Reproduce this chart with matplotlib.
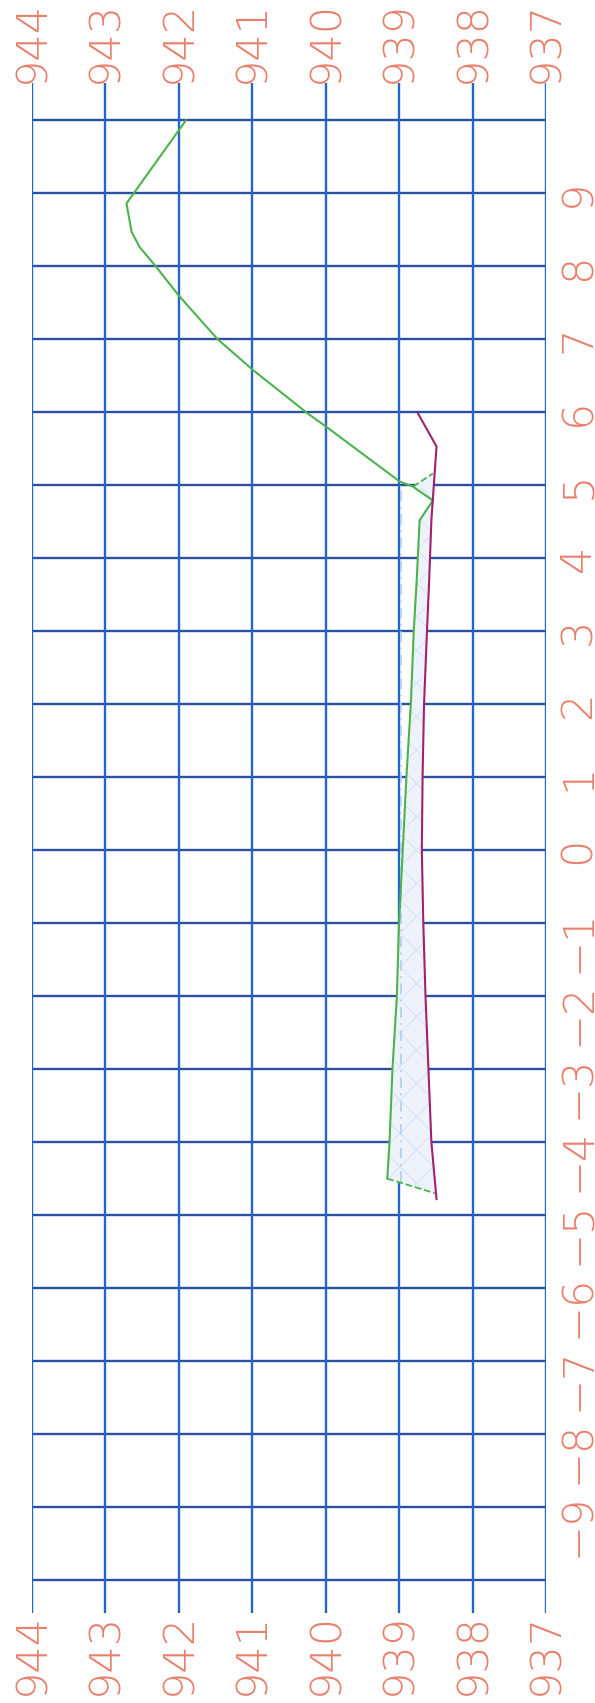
import numpy as np
import matplotlib
matplotlib.use("Agg")
import matplotlib.pyplot as plt

# elevation grid (horizontal axis, reversed) and stations (vertical axis)
elev_ticks = [944, 943, 942, 941, 940, 939, 938, 937]
station_lines = list(range(-10, 11))
station_labels = [s for s in range(-9, 10)]

# existing ground (green)
ground_sta = [10, 8.86, 8.47, 8.26, 8.01, 7.60, 7.0, 6.58, 5.98, 5.80, 5.05, 4.98,
              4.79, 4.52, 3.70, 3.0, 2.0, 1.0, 0.0, -1.0, -2.0, -3.0, -4.0, -4.50]
ground_elev = [941.90, 942.71, 942.64, 942.53, 942.32, 942.00, 941.47, 940.99, 940.24,
               939.99, 938.99, 938.81, 938.54, 938.72, 938.76, 938.80, 938.84, 938.90,
               938.95, 939.00, 939.03, 939.09, 939.13, 939.16]

# bottom profile (purple)
bed_sta = [5.98, 5.53, 4.52, 3.70, 3.0, 2.0, 1.0, 0.0, -1.0, -2.0, -3.0, -4.0, -4.78]
bed_elev = [938.74, 938.49, 938.56, 938.59, 938.62, 938.66, 938.68, 938.69, 938.67,
            938.64, 938.60, 938.56, 938.49]

# short dashed closing segments
top_cap_sta = [4.98, 5.16]
top_cap_elev = [938.81, 938.54]
bot_cap_sta = [-4.50, -4.70]
bot_cap_elev = [939.16, 938.51]

grid_v = "#2266cc"
grid_h = "#2a50a0"
txt_col = "#e8806c"

fig = plt.figure(figsize=(5.95, 17.03), dpi=100)
fig.patch.set_facecolor("white")
ax = fig.add_axes([31.7 / 595, 1 - 1613 / 1703, (546 - 31.7) / 595, (1613 - 83) / 1703])
ax.set_xlim(944, 937)
ax.set_ylim(-10.45, 10.51)
ax.axis("off")

for s in station_lines:
    ax.plot([944, 937], [s, s], color=grid_h, lw=1.7, zorder=1)
for e in elev_ticks:
    ax.plot([e, e], [-10.45, 10.51], color=grid_v, lw=1.7, zorder=1)

# channel fill between ground and bed
poly_e = ground_elev[11:] + bot_cap_elev[1:] + bed_elev[::-1][:-1] + top_cap_elev[1:]
poly_s = ground_sta[11:] + bot_cap_sta[1:] + bed_sta[::-1][:-1] + top_cap_sta[1:]
ax.fill(poly_e, poly_s, facecolor="#eef3fb", edgecolor="#dbe7f6", hatch="x",
        lw=0, zorder=2)
ax.plot([938.98, 938.98], [-4.55, 5.0], color="#b4d0f0", lw=1.3,
        linestyle=(0, (6, 3, 1, 3)), zorder=3)

ax.plot(ground_elev, ground_sta, color="#4cb34c", lw=1.5, zorder=4)
ax.plot(bed_elev, bed_sta, color="#a4206e", lw=1.5, zorder=4)
ax.plot(top_cap_elev, top_cap_sta, color="#4cb34c", lw=1.3, ls="--", zorder=4)
ax.plot(bot_cap_elev, bot_cap_sta, color="#4cb34c", lw=1.3, ls="--", zorder=4)

fs = 31
for e in elev_ticks:
    ax.text(e, 10.51, str(e), rotation=90, ha="center", va="bottom",
            color=txt_col, fontsize=fs, fontweight="light", clip_on=False)
    ax.text(e, -10.45, str(e), rotation=90, ha="center", va="top",
            color=txt_col, fontsize=fs, fontweight="light", clip_on=False)

for s in station_labels:
    lab = str(s).replace("-", "\u2212")
    ax.text(936.57, s + 0.19, lab, rotation=90, ha="center", va="top",
            color=txt_col, fontsize=fs, fontweight="light", clip_on=False)

fig.savefig("out.png", dpi=100, facecolor="white")
